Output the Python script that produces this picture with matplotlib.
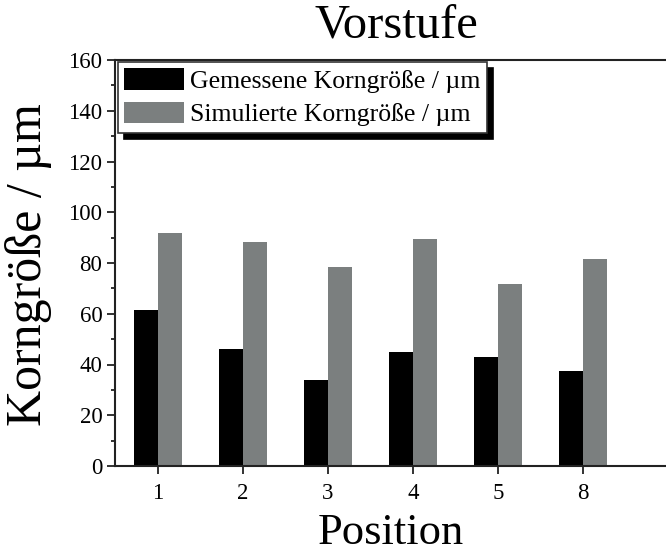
import matplotlib
matplotlib.use("Agg")
import matplotlib.pyplot as plt
import numpy as np
from matplotlib.ticker import MultipleLocator

positions = ["1", "2", "3", "4", "5", "8"]
gemessen = [61.5, 46.0, 34.0, 44.8, 43.0, 37.6]
simuliert = [91.7, 88.2, 78.5, 89.3, 71.6, 81.7]
label_gem = "Gemessene Korngröße / µm"
label_sim = "Simulierte Korngröße / µm"

plt.rcParams['font.family'] = ['Liberation Serif', 'DejaVu Serif']

W, H = 666, 554
fig = plt.figure(figsize=(W / 100, H / 100), dpi=100)
left, right, top, bottom = 115, 677, 60, 466
ax = fig.add_axes([left / W, 1 - bottom / H, (right - left) / W, (bottom - top) / H])

x = np.arange(1, len(positions) + 1)
w = 0.284
ax.bar(x - w / 2, gemessen, width=w, color='black', label=label_gem, linewidth=0)
ax.bar(x + w / 2, simuliert, width=w, color='#7b7f7f', label=label_sim, linewidth=0)

ax.set_xlim(0.494, 7.11)
ax.set_ylim(0, 160)
ax.set_xticks(x)
ax.set_xticklabels(positions)
ax.yaxis.set_major_locator(MultipleLocator(20))
ax.yaxis.set_minor_locator(MultipleLocator(10))

for s in ax.spines.values():
    s.set_linewidth(1.5)
    s.set_color('#222222')

ax.tick_params(axis='both', which='major', length=6, width=1.3, labelsize=16.5, color='#222222')
ax.tick_params(axis='y', which='minor', length=3, width=1.3, color='#222222')
ax.tick_params(axis='y', which='major', pad=3)
ax.tick_params(axis='x', which='major', pad=6)

fig.text(396 / W, 1 - 38 / H, "Vorstufe", ha='center', va='baseline', fontsize=35)
fig.text(391 / W, 1 - 544 / H, "Position", ha='center', va='baseline', fontsize=32)
fig.text(29 / W, 1 - 265 / H, "Korngröße / µm", ha='center', va='center', rotation=90, fontsize=36)

leg = ax.legend(loc='upper left', bbox_to_anchor=(118 / W, 1 - 62 / H), bbox_transform=fig.transFigure,
                borderaxespad=0, fontsize=18.5, handlelength=2.3, handleheight=0.9, handletextpad=0.25,
                borderpad=0.25, labelspacing=0.35, fancybox=False, framealpha=1,
                shadow={'ox': 4.5, 'oy': -4.5, 'facecolor': 'black', 'edgecolor': 'black', 'alpha': 1})
leg.get_frame().set_edgecolor('#333333')
leg.get_frame().set_linewidth(1.2)

fig.savefig("out.png", dpi=100)
